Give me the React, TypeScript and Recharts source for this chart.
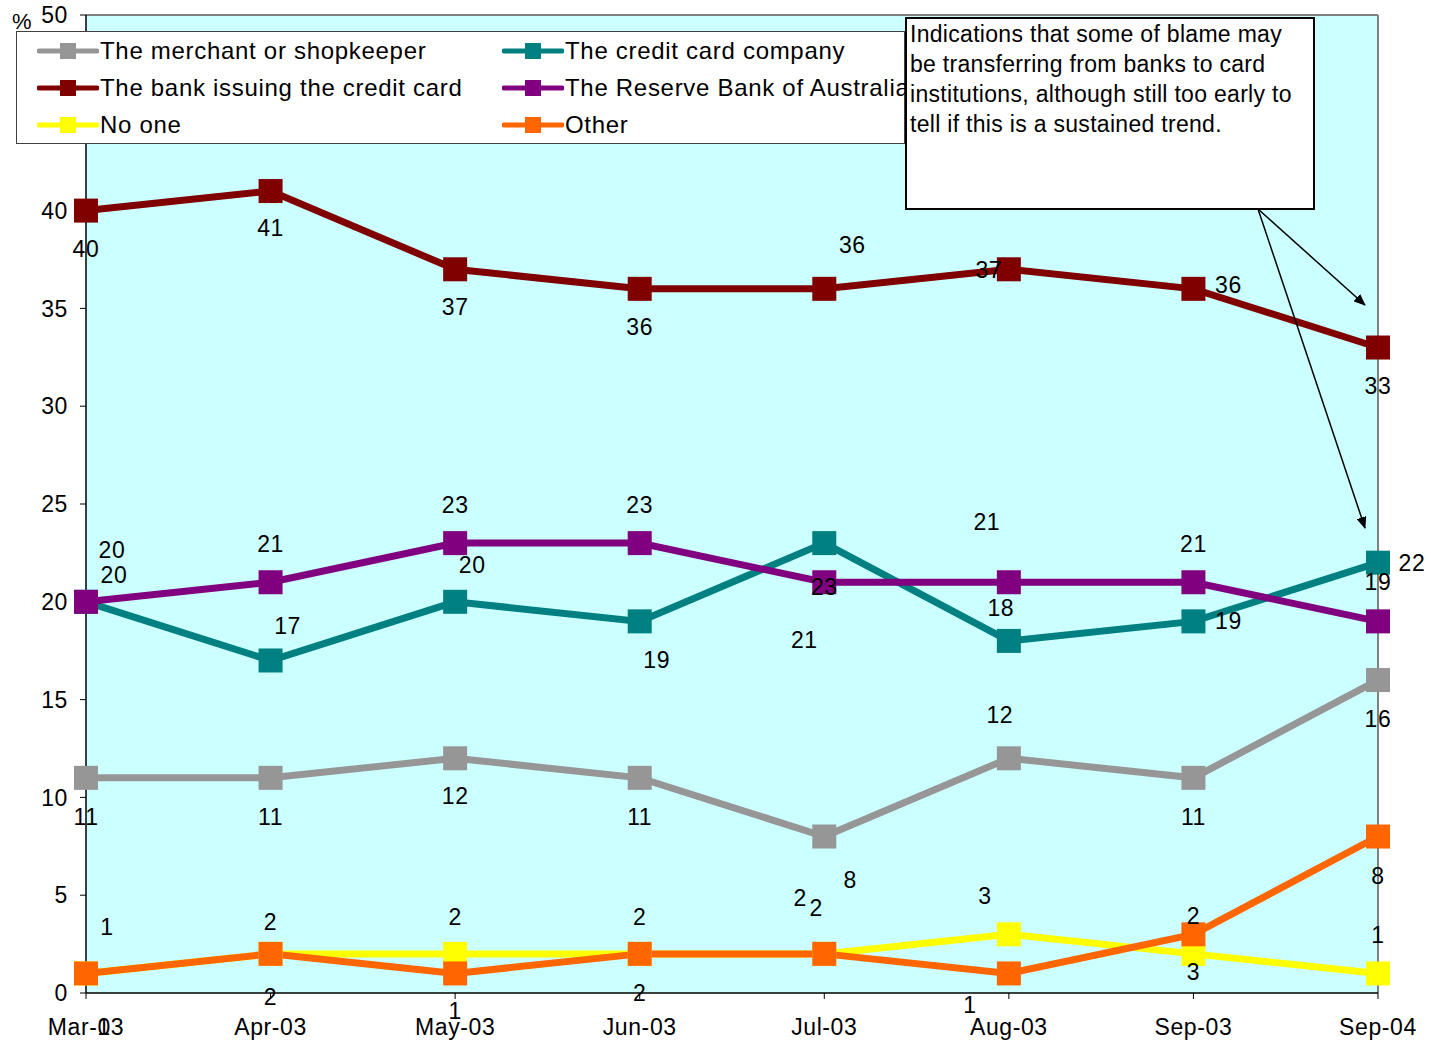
import React from 'react';
import {
  LineChart,
  Line,
  XAxis,
  YAxis,
  CartesianGrid,
  Legend,
  LabelList,
  ReferenceLine
} from 'recharts';

// survey waves
const months = ['Mar-03', 'Apr-03', 'May-03', 'Jun-03', 'Jul-03', 'Aug-03', 'Sep-03', 'Sep-04'];

// % who blame each party
const merchant = [11, 11, 12, 11, 8, 12, 11, 16];
const creditCardCompany = [20, 17, 20, 19, 23, 18, 19, 22];
const issuingBank = [40, 41, 37, 36, 36, 37, 36, 33];
const reserveBank = [20, 21, 23, 23, 21, 21, 21, 19];
const noOne = [1, 2, 2, 2, 2, 3, 2, 1];
const other = [1, 2, 1, 2, 2, 1, 3, 8];

const yTicks = [0, 5, 10, 15, 20, 25, 30, 35, 40, 45, 50];

const FONT = '"Liberation Sans", Arial, Helvetica, sans-serif';

const data = months.map((month, i) => ({
  month,
  merchant: merchant[i],
  creditCardCompany: creditCardCompany[i],
  issuingBank: issuingBank[i],
  reserveBank: reserveBank[i],
  noOne: noOne[i],
  other: other[i]
}));

// label placement (dx, dy from the marker), like Excel left them
const series = [
  {
    key: 'merchant', name: 'The merchant or shopkeeper', color: '#969696',
    offsets: [[0, 39], [0, 39], [0, 38], [0, 39], [26, 43], [-9, -43], [0, 39], [0, 39]]
  },
  {
    key: 'creditCardCompany', name: 'The credit card company', color: '#008080',
    offsets: [[28, -27], [17, -34], [17, -37], [17, 39], [0, 44], [-8, -33], [35, 0], [34, 0]]
  },
  {
    key: 'issuingBank', name: 'The bank issuing the credit card', color: '#800000',
    offsets: [[0, 38], [0, 37], [0, 38], [0, 38], [28, -44], [-20, 1], [35, -4], [0, 38]]
  },
  {
    key: 'reserveBank', name: 'The Reserve Bank of Australia', color: '#800080',
    offsets: [[26, -52], [0, -38], [0, -38], [0, -38], [-20, 58], [-22, -60], [0, -38], [0, -39]]
  },
  {
    key: 'noOne', name: 'No one', color: '#FFFF00',
    offsets: [[21, -46], [0, -32], [0, -37], [0, -37], [-24, -56], [-24, -38], [0, -38], [0, -38]]
  },
  {
    key: 'other', name: 'Other', color: '#FF6600',
    offsets: [[18, 54], [0, 43], [0, 38], [0, 39], [-8, -46], [-39, 32], [0, 38], [0, 39]]
  }
];

const renderLegend = () => (
  <div
    style={{
      position: 'relative',
      width: 889,
      height: 113,
      background: '#fff',
      border: '1px solid #404040',
      boxSizing: 'border-box',
      fontFamily: FONT,
      fontSize: 24,
      letterSpacing: 0.7,
      color: '#000'
    }}
  >
    {series.map((s, i) => {
      const col = i % 2;
      const row = Math.floor(i / 2);
      return (
        <div
          key={s.key}
          style={{
            position: 'absolute',
            left: 20 + col * 465,
            top: 19 + row * 37 - 14,
            height: 28,
            display: 'flex',
            alignItems: 'center',
            whiteSpace: 'nowrap'
          }}
        >
          <svg width={62} height={20} style={{ marginRight: 1 }}>
            <line x1={2} y1={10} x2={60} y2={10} stroke={s.color} strokeWidth={5} strokeLinecap="round" />
            <rect x={23} y={2} width={16} height={16} fill={s.color} />
          </svg>
          <span>{s.name}</span>
        </div>
      );
    })}
  </div>
);

const makeLabel = (offsets: number[][]) => (props: any) => {
  const { index, value } = props;
  const x = props.x ?? props.viewBox?.x;
  const y = props.y ?? props.viewBox?.y;
  const [dx, dy] = offsets[index] || [0, 0];
  return (
    <text
      x={x + dx}
      y={y + dy}
      textAnchor="middle"
      dominantBaseline="central"
      fontFamily={FONT}
      fontSize={23}
      letterSpacing={0.6}
      fill="#000"
    >
      {value}
    </text>
  );
};

const makeDot = (key: string, color: string) => (props: any) => (
  <rect
    key={`${key}-${props.index}`}
    x={props.cx - 12}
    y={props.cy - 12}
    width={24}
    height={24}
    fill={color}
  />
);

const tickStyle = { fill: '#000', fontSize: 23, fontFamily: FONT, letterSpacing: 0.6 };

export default function App() {
  return (
    <div style={{ position: 'relative', width: 1431, height: 1045 }}>
      <style>{'body{margin:0}'}</style>
      <LineChart
        width={1431}
        height={1045}
        data={data}
        margin={{ top: 15, right: 53, bottom: 0, left: 26 }}
      >
        <CartesianGrid horizontal={false} vertical={false} fill="#CCFFFF" />
        <ReferenceLine y={50} stroke="#808080" strokeWidth={2} />
        <ReferenceLine x="Sep-04" stroke="#808080" strokeWidth={2} />
        <XAxis
          dataKey="month"
          height={52}
          interval={0}
          tickSize={6}
          tickMargin={20}
          axisLine={{ stroke: '#000', strokeWidth: 1.5 }}
          tickLine={{ stroke: '#000' }}
          tick={tickStyle}
        />
        <YAxis
          width={60}
          domain={[0, 50]}
          ticks={yTicks}
          interval={0}
          tickSize={6}
          tickMargin={12}
          axisLine={{ stroke: '#000', strokeWidth: 1.5 }}
          tickLine={{ stroke: '#000' }}
          tick={tickStyle}
        />
        <Legend
          layout="horizontal"
          verticalAlign="middle"
          align="center"
          content={renderLegend}
          wrapperStyle={{ left: 16, top: 31, width: 889, height: 113 }}
        />
        {series.map((s) => (
          <Line
            key={s.key}
            type="linear"
            dataKey={s.key}
            name={s.name}
            stroke={s.color}
            strokeWidth={7}
            dot={makeDot(s.key, s.color)}
            activeDot={false}
            isAnimationActive={false}
          >
            <LabelList dataKey={s.key} content={makeLabel(s.offsets)} />
          </Line>
        ))}
      </LineChart>

      <div
        style={{
          position: 'absolute',
          left: 12,
          top: 9,
          fontFamily: FONT,
          fontSize: 22,
          color: '#000'
        }}
      >
        %
      </div>

      <div
        style={{
          position: 'absolute',
          left: 905,
          top: 17,
          width: 410,
          height: 193,
          boxSizing: 'border-box',
          background: '#fff',
          border: '2px solid #000',
          padding: '0 0 0 3px',
          fontFamily: FONT,
          fontSize: 23,
          letterSpacing: 0.3,
          lineHeight: '30px',
          color: '#000',
          whiteSpace: 'nowrap',
          zIndex: 5
        }}
      >
        Indications that some of blame may<br />
        be transferring from banks to card<br />
        institutions, although still too early to<br />
        tell if this is a sustained trend.
      </div>

      <svg
        width={1431}
        height={1045}
        style={{ position: 'absolute', left: 0, top: 0, pointerEvents: 'none', zIndex: 6 }}
      >
        <defs>
          <marker id="arrow" markerWidth="12" markerHeight="10" refX="11" refY="5" orient="auto" markerUnits="userSpaceOnUse">
            <path d="M0,0 L12,5 L0,10 Z" fill="#000" />
          </marker>
        </defs>
        <line x1={1258} y1={209} x2={1365} y2={305} stroke="#000" strokeWidth={1.5} markerEnd="url(#arrow)" />
        <line x1={1258} y1={209} x2={1365} y2={528} stroke="#000" strokeWidth={1.5} markerEnd="url(#arrow)" />
      </svg>
    </div>
  );
}
